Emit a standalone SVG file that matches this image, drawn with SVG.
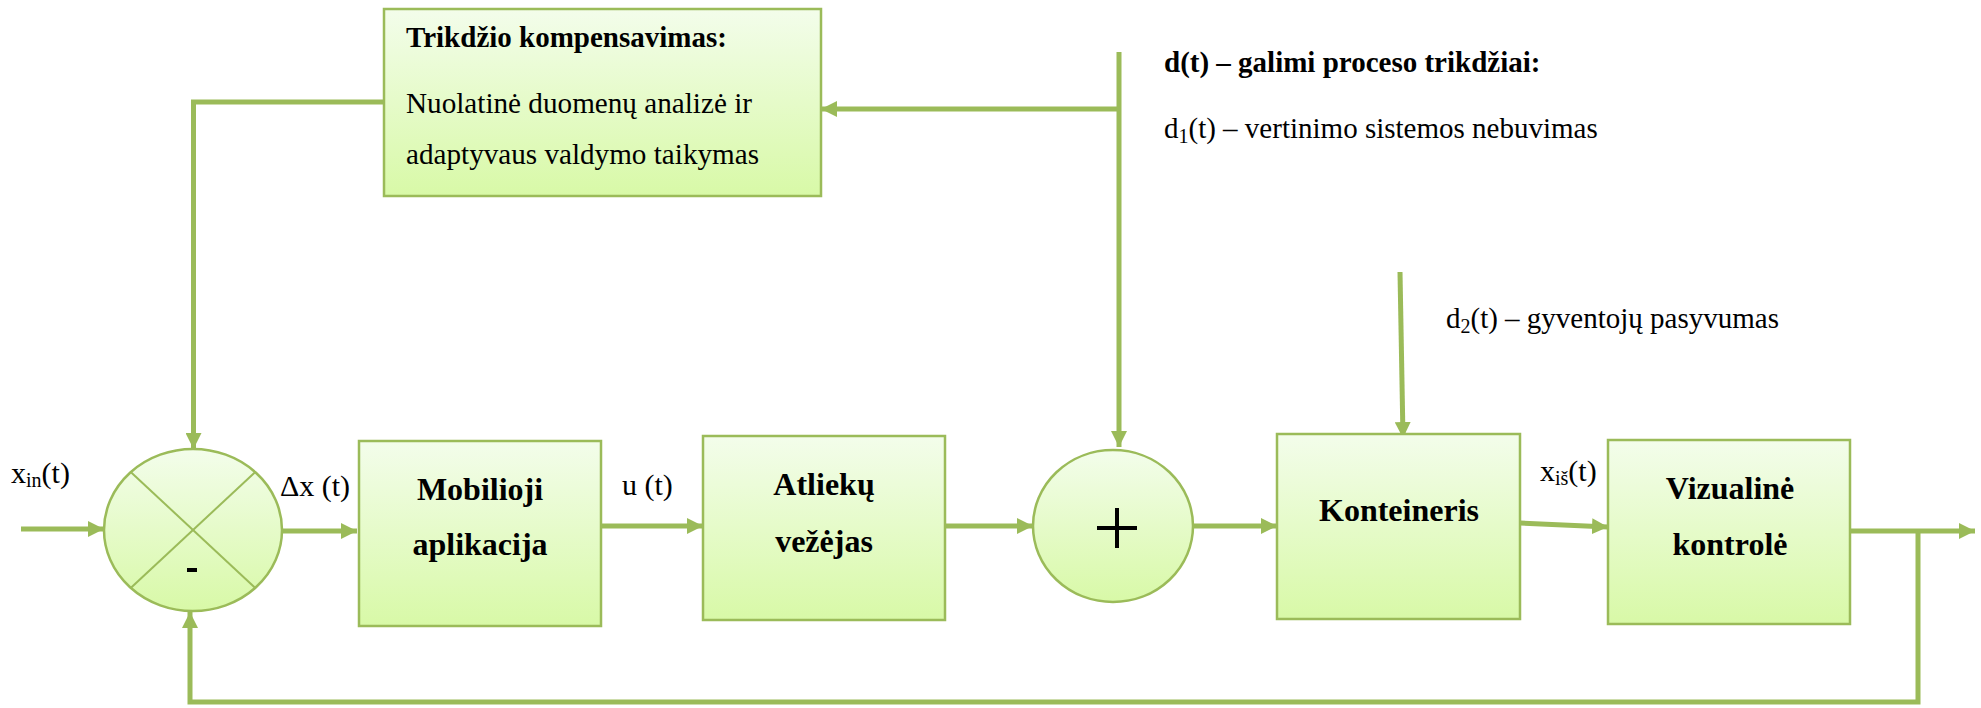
<svg xmlns="http://www.w3.org/2000/svg" width="1981" height="708" viewBox="0 0 1981 708">
<defs>
<linearGradient id="g" x1="0" y1="0" x2="0" y2="1">
<stop offset="0" stop-color="#F3FDEB"/>
<stop offset="1" stop-color="#D8F9A7"/>
</linearGradient>
<marker id="ah" markerUnits="userSpaceOnUse" markerWidth="18" markerHeight="16" refX="16" refY="8" orient="auto">
<path d="M0,0 L16,8 L0,16 Z" fill="#9BBB59"/>
</marker>
<style>
.box{fill:url(#g);stroke:#9BBB59;stroke-width:2.5}
.con{fill:none;stroke:#9BBB59;stroke-width:5}
.arr{marker-end:url(#ah)}
.bl{font-family:"Liberation Serif","Times New Roman",serif;font-weight:bold;font-size:32px;fill:#000;text-anchor:middle}
.tx{font-family:"Liberation Serif","Times New Roman",serif;font-size:29px;fill:#000}
.lb{font-family:"Liberation Serif","Times New Roman",serif;font-size:30px;fill:#000}
.sub{font-size:20px}
</style>
</defs>
<rect width="1981" height="708" fill="#fff"/>
<g id="connectors">
<line class="con arr" x1="21" y1="529" x2="104" y2="529"/>
<line class="con arr" x1="282" y1="531" x2="357" y2="531"/>
<line class="con arr" x1="601" y1="526" x2="703" y2="526"/>
<line class="con arr" x1="945" y1="526" x2="1033" y2="526"/>
<line class="con arr" x1="1193" y1="526" x2="1277" y2="526"/>
<line class="con arr" x1="1520" y1="523" x2="1608" y2="527"/>
<line class="con arr" x1="1850" y1="531" x2="1975" y2="531"/>
<polyline class="con arr" points="1918,531 1918,702 190,702 190,612"/>
<polyline class="con arr" points="384,102 193.5,102 193.5,449"/>
<line class="con arr" x1="1119" y1="52" x2="1119" y2="447"/>
<line class="con arr" x1="1119" y1="109" x2="821" y2="109"/>
<line class="con arr" x1="1400" y1="272" x2="1403" y2="438"/>
</g>
<g id="compensation">
<rect class="box" x="384" y="9" width="437" height="187"/>
<text class="tx" x="406" y="47" font-weight="bold">Trikdžio kompensavimas:</text>
<text class="tx" x="406" y="113" textLength="346" lengthAdjust="spacingAndGlyphs">Nuolatinė duomenų analizė ir</text>
<text class="tx" x="406" y="164" textLength="353" lengthAdjust="spacingAndGlyphs">adaptyvaus valdymo taikymas</text>
</g>
<g id="disturbances">
<text class="tx" x="1164" y="72" font-weight="bold">d(t) – galimi proceso trikdžiai:</text>
<text class="tx" x="1164" y="138">d<tspan class="sub" dy="5">1</tspan><tspan dy="-5">(t) – vertinimo sistemos nebuvimas</tspan></text>
<text class="tx" x="1446" y="328">d<tspan class="sub" dy="5">2</tspan><tspan dy="-5">(t) – gyventojų pasyvumas</tspan></text>
</g>
<g id="comparator">
<ellipse class="box" cx="193" cy="530" rx="89" ry="81"/>
<line x1="130.7" y1="472" x2="255.3" y2="588" stroke="#9BBB59" stroke-width="2"/>
<line x1="255.3" y1="472" x2="130.7" y2="588" stroke="#9BBB59" stroke-width="2"/>
<rect x="187" y="568" width="10" height="4" fill="#000"/>
</g>
<g id="mobilioji">
<rect class="box" x="359" y="441" width="242" height="185"/>
<text class="bl" x="480" y="500">Mobilioji</text>
<text class="bl" x="480" y="555">aplikacija</text>
</g>
<g id="atlieku">
<rect class="box" x="703" y="436" width="242" height="184"/>
<text class="bl" x="824" y="495">Atliekų</text>
<text class="bl" x="824" y="552">vežėjas</text>
</g>
<g id="adder">
<ellipse class="box" cx="1113" cy="526" rx="80" ry="76"/>
<line x1="1097" y1="528" x2="1137" y2="528" stroke="#000" stroke-width="4"/>
<line x1="1117" y1="508" x2="1117" y2="548" stroke="#000" stroke-width="4"/>
</g>
<g id="konteineris">
<rect class="box" x="1277" y="434" width="243" height="185"/>
<text class="bl" x="1399" y="521">Konteineris</text>
</g>
<g id="vizualine">
<rect class="box" x="1608" y="440" width="242" height="184"/>
<text class="bl" x="1730" y="499">Vizualinė</text>
<text class="bl" x="1730" y="555">kontrolė</text>
</g>
<g id="labels">
<text class="lb" x="11" y="483">x<tspan class="sub" dy="4">in</tspan><tspan dy="-4">(t)</tspan></text>
<text class="lb" x="280" y="496">Δx (t)</text>
<text class="lb" x="622" y="495">u (t)</text>
<text class="lb" x="1540" y="481">x<tspan class="sub" dy="4">iš</tspan><tspan dy="-4">(t)</tspan></text>
</g>
</svg>
